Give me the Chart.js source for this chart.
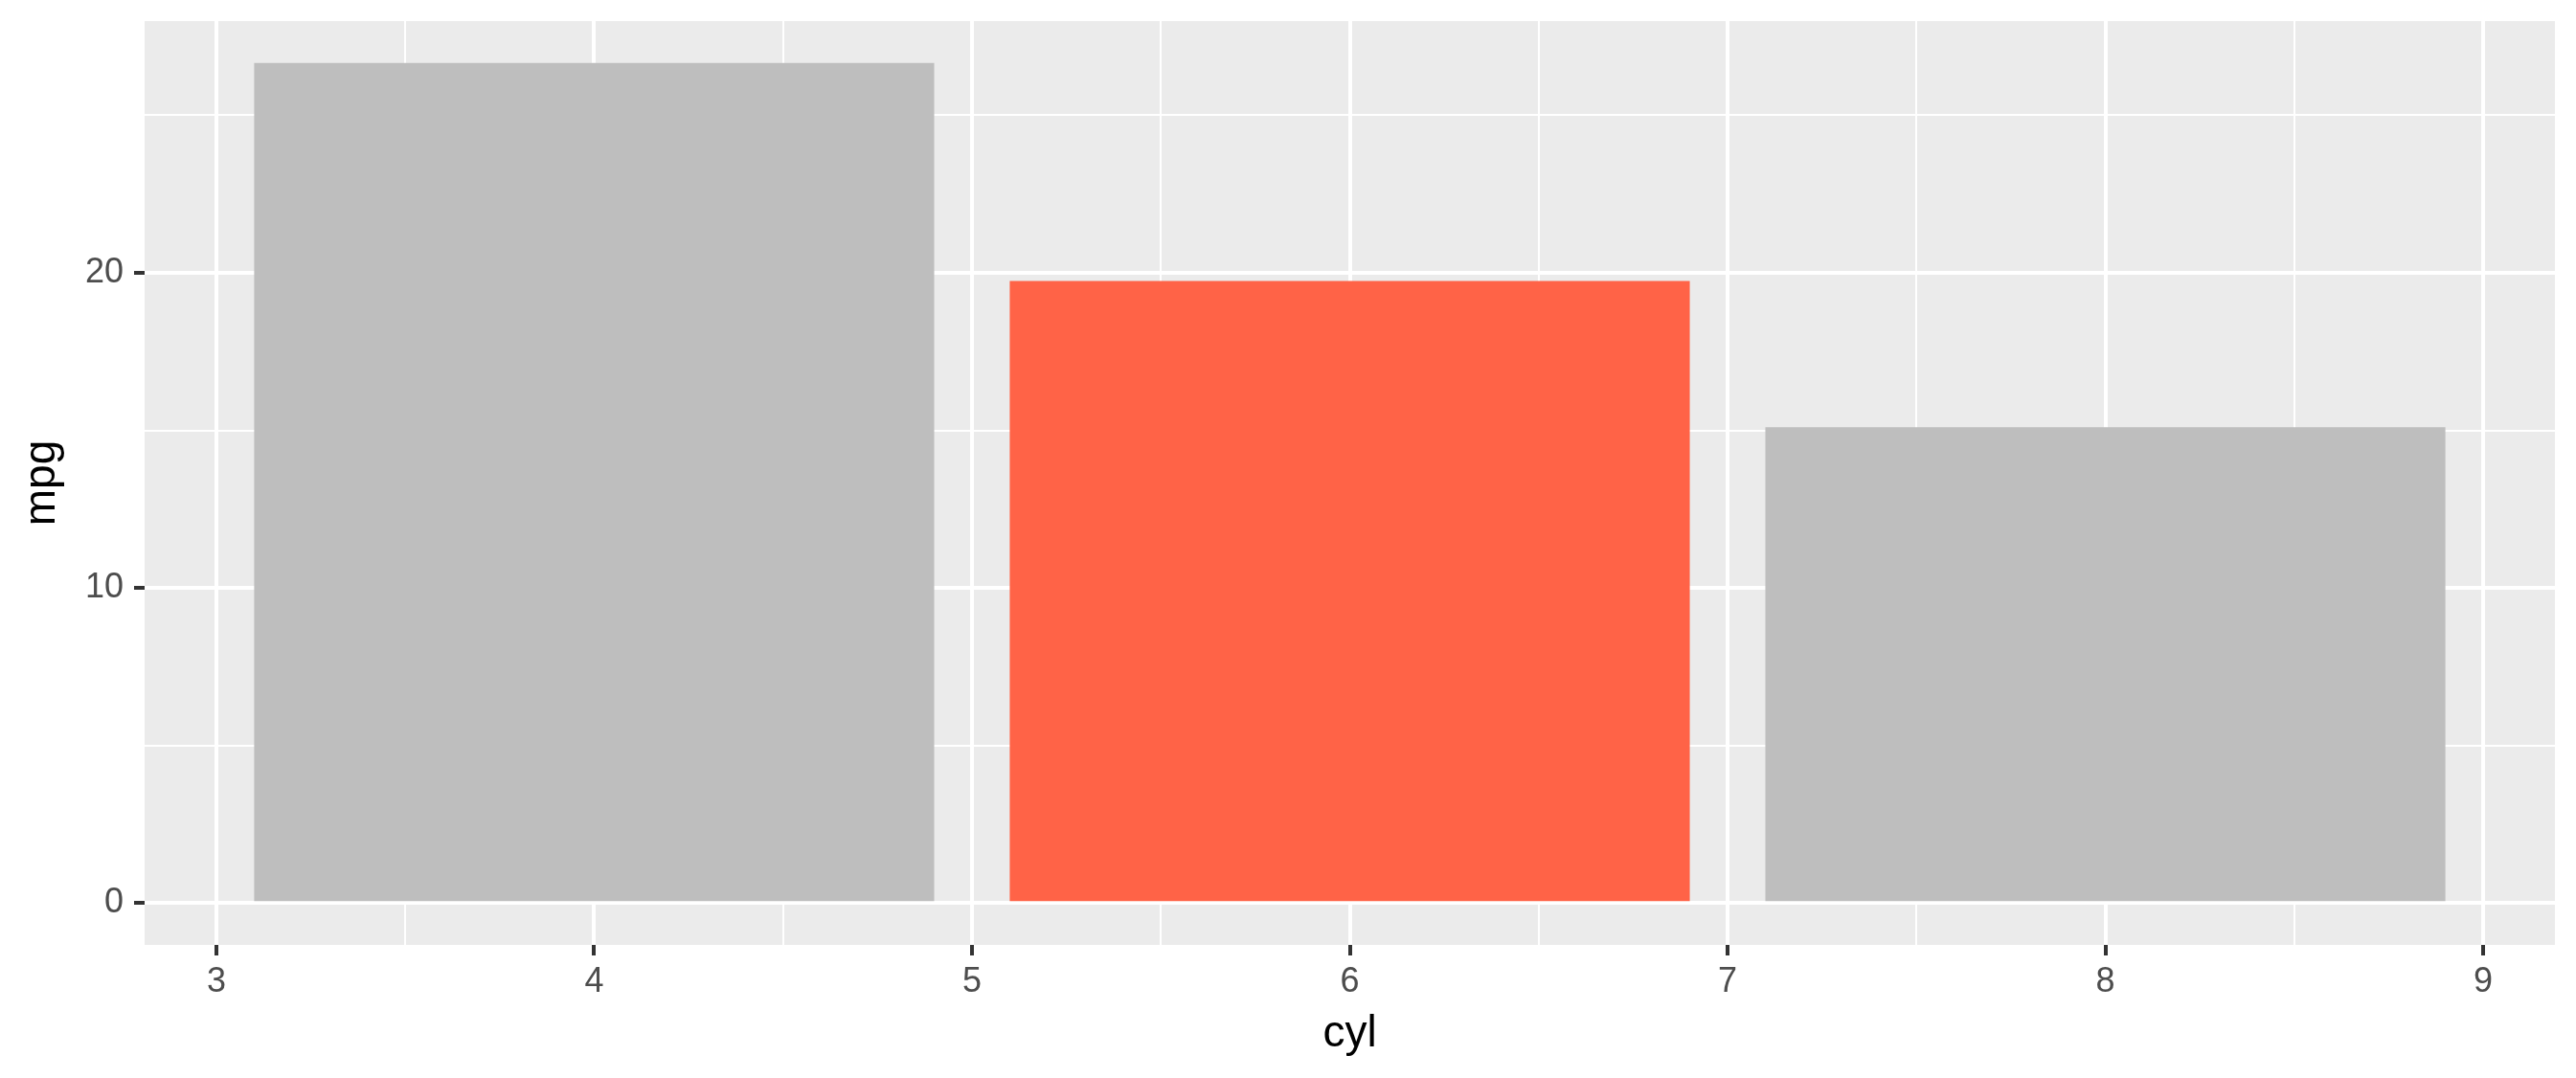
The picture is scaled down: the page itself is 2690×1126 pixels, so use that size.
<!DOCTYPE html>
<html>
<head>
<meta charset="utf-8">
<script src="https://cdn.jsdelivr.net/npm/chart.js@4/dist/chart.umd.min.js"></script>
<style>
  html, body { margin: 0; padding: 0; background: #fff; }
  canvas { display: block; }
</style>
</head>
<body>
<canvas id="grafico" width="2690" height="1126"></canvas>
<script>
// === Datos ===
const cilindros = [4, 6, 8];
const mpgMedio = [26.66, 19.74, 15.10];
const coloresBarra = ['#BEBEBE', '#FF6347', '#BEBEBE'];

// ticks mayores (con etiqueta) y menores (solo rejilla)
const ticksX = [3, 4, 5, 6, 7, 8, 9];
const menoresX = [3.5, 4.5, 5.5, 6.5, 7.5, 8.5];
const ticksY = [0, 10, 20];
const menoresY = [5, 15, 25];

// === Estilo tipo ggplot ===
Chart.defaults.font.family = "'Liberation Sans', Arial, sans-serif";
Chart.defaults.devicePixelRatio = 1;

const fondoPanel = {
  id: 'fondoPanel',
  beforeDraw(chart) {
    const { ctx, chartArea: a } = chart;
    ctx.save();
    ctx.fillStyle = '#EBEBEB';
    ctx.fillRect(a.left, a.top, a.right - a.left, a.bottom - a.top);
    ctx.restore();
  }
};

function rejilla(mayores) {
  const esMayor = c => !c.tick || mayores.includes(c.tick.value);
  return {
    offset: false,
    color: '#FFFFFF',
    lineWidth: c => esMayor(c) ? 4 : 2,
    drawTicks: true,
    tickLength: 11,
    tickWidth: 4,
    tickColor: c => esMayor(c) ? '#333333' : 'rgba(0,0,0,0)'
  };
}

function fijarTicks(mayores, menores) {
  return scale => {
    scale.ticks = mayores.concat(menores).sort((a, b) => a - b).map(v => ({ value: v }));
  };
}

new Chart(document.getElementById('grafico'), {
  type: 'bar',
  data: {
    datasets: [{
      data: cilindros.map((c, i) => ({ x: c, y: mpgMedio[i] })),
      backgroundColor: coloresBarra,
      borderWidth: 0,
      categoryPercentage: 1,
      barPercentage: 3.6
    }]
  },
  plugins: [fondoPanel],
  options: {
    responsive: false,
    animation: false,
    layout: { padding: { top: 22, right: 22, left: 0, bottom: 0 } },
    plugins: {
      legend: { display: false },
      tooltip: { enabled: false }
    },
    scales: {
      x: {
        type: 'linear',
        min: 2.81,
        max: 9.19,
        offset: false,
        border: { display: false },
        grid: rejilla(ticksX),
        afterBuildTicks: fijarTicks(ticksX, menoresX),
        afterFit: s => { s.height = 139; s.paddingLeft = 0; s.paddingRight = 0; },
        ticks: {
          autoSkip: false,
          maxRotation: 0,
          padding: 6,
          color: '#4D4D4D',
          font: { size: 36 },
          callback: v => ticksX.includes(v) ? String(v) : ''
        },
        title: {
          display: true,
          text: 'cyl',
          color: '#000000',
          font: { size: 46 },
          padding: { top: 0, bottom: 18 }
        }
      },
      y: {
        type: 'linear',
        min: -1.333,
        max: 27.993,
        border: { display: false },
        grid: rejilla(ticksY),
        afterBuildTicks: fijarTicks(ticksY, menoresY),
        afterFit: s => { s.width = 151; s.paddingTop = 0; s.paddingBottom = 0; },
        ticks: {
          autoSkip: false,
          padding: 11,
          color: '#4D4D4D',
          font: { size: 36 },
          callback: v => ticksY.includes(v) ? String(v) : ''
        },
        title: {
          display: true,
          text: 'mpg',
          color: '#000000',
          font: { size: 46 },
          padding: { top: 17, bottom: 0 }
        }
      }
    }
  }
});
</script>
</body>
</html>
